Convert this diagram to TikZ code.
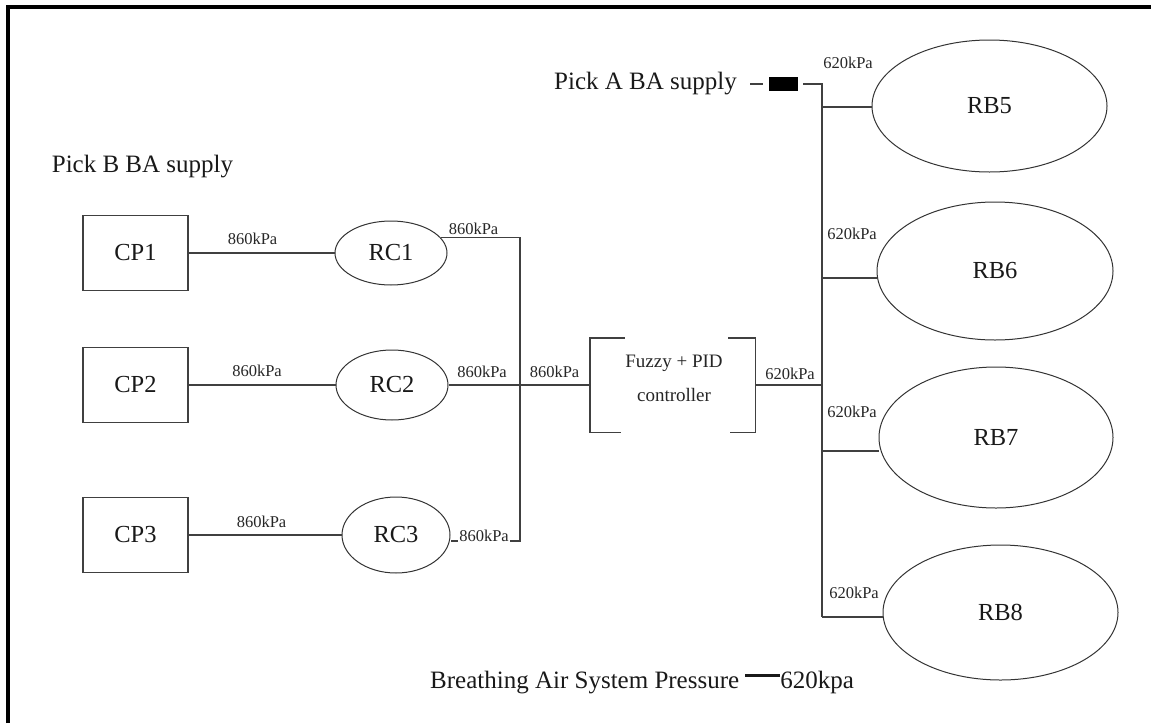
\documentclass[tikz,border=0pt]{standalone}
\usepackage{fontspec}
\setmainfont{Liberation Serif}
\usetikzlibrary{shapes.geometric}
\begin{document}
\begin{tikzpicture}[x=1pt,y=-1pt,
  wire/.style={draw=black!75,line width=1.4pt},
  cpbox/.style={draw=black!75,line width=1.3pt,minimum width=105pt,minimum height=75pt,inner sep=0pt,font=\fontsize{24.5}{28}\selectfont,text=black!90},
  oval/.style={ellipse,draw=black!80,line width=1pt,inner sep=0pt,font=\fontsize{24.5}{28}\selectfont,text=black!90},
  plabel/.style={font=\fontsize{16.5}{18}\selectfont,text=black!85,inner sep=0pt},
  bigtext/.style={font=\fontsize{25}{30}\selectfont,text=black!90,inner sep=0pt},
]
\useasboundingbox (0,0) rectangle (1151,723);
% frame (only top and left edges visible)
\draw[line width=4pt] (8,723) -- (8,7) -- (1151,7);

% left side
\node[bigtext] (pickB) at (142.5,167) {Pick B BA supply};
\node[cpbox] (cp1) at (135.5,253) {CP1};
\node[cpbox] (cp2) at (135.5,385) {CP2};
\node[cpbox] (cp3) at (135.5,535) {CP3};
\node[oval,minimum width=112pt,minimum height=64pt] (rc1) at (391,253) {RC1};
\node[oval,minimum width=112pt,minimum height=70pt] (rc2) at (392,385) {RC2};
\node[oval,minimum width=108pt,minimum height=76pt] (rc3) at (396,535) {RC3};

% controller
\node[minimum width=165pt,minimum height=94pt,inner sep=0pt] (ctrl) at (672.5,385) {};
\node[align=center,font=\fontsize{19}{34}\selectfont,text=black!85,inner sep=0pt] (ctrltext) at (674,378) {Fuzzy + PID\\controller};
\draw[wire] ([xshift=35pt]ctrl.north west) -- (ctrl.north west) -- (ctrl.south west) -- ([xshift=31pt]ctrl.south west);
\draw[wire] ([xshift=-27pt]ctrl.north east) -- (ctrl.north east) -- (ctrl.south east) -- ([xshift=-25pt]ctrl.south east);

% left bus
\coordinate (lbb) at (520,541);
\draw[wire] (cp1) -- (rc1);
\draw[wire] (cp2) -- (rc2);
\draw[wire] (cp3) -- (rc3);
\draw[wire] (rc1.17) -- (rc1.17 -| lbb) -- (lbb) -- (lbb -| rc3.east);
\draw[wire] (rc2) -- (ctrl);

% top valve and right bus
\node[bigtext] (pickA) at (645.5,84) {Pick A BA supply};
\node[fill=black,minimum width=29pt,minimum height=14pt,inner sep=0pt] (valve) at (783.5,84) {};
\coordinate (d1) at (750,84);
\coordinate (vtail) at (803,84);
\coordinate (rtop) at (822,84);
\coordinate (rbot) at (822,617);
\coordinate (j5) at (822,107);
\coordinate (j6) at (822,278);
\coordinate (j7) at (822,451);
\draw[wire] (d1) -- ([xshift=-6pt]valve.west);
\draw[wire] (vtail) -- (rtop) -- (rbot);
\draw[wire] (ctrl) -- (ctrl -| rtop);

\node[oval,minimum width=235pt,minimum height=132pt] (rb5) at (989.5,106) {RB5};
\node[oval,minimum width=236pt,minimum height=138pt] (rb6) at (995,271) {RB6};
\node[oval,minimum width=234pt,minimum height=141pt] (rb7) at (996,437.5) {RB7};
\node[oval,minimum width=235pt,minimum height=135pt] (rb8) at (1000.5,612.5) {RB8};
\draw[wire] (j5) -- (j5 -| rb5.west);
\draw[wire] (j6) -- (j6 -| rb6.west);
\draw[wire] (j7) -- (j7 -| rb7.west);
\draw[wire] (rbot) -- (rbot -| rb8.west);

% pressure labels
\node[plabel] (l1) at (252.5,239) {860kPa};
\node[plabel] (l2) at (473.5,229) {860kPa};
\node[plabel] (l3) at (257,371) {860kPa};
\node[plabel] (l4) at (482,372) {860kPa};
\node[plabel] (l5) at (554.5,372) {860kPa};
\node[plabel] (l6) at (261.5,522) {860kPa};
\node[plabel,fill=white,inner sep=1pt] (l7) at (484,536) {860kPa};
\node[plabel] (l8) at (790,374) {620kPa};
\node[plabel] (l9) at (848,63) {620kPa};
\node[plabel] (l10) at (852,234) {620kPa};
\node[plabel] (l11) at (852,412) {620kPa};
\node[plabel] (l12) at (854,593) {620kPa};

% legend
\node[bigtext,anchor=base west] (legend) at (430,688) {Breathing Air System Pressure \rule[11pt]{35pt}{3pt}620kpa};
\end{tikzpicture}
\end{document}
